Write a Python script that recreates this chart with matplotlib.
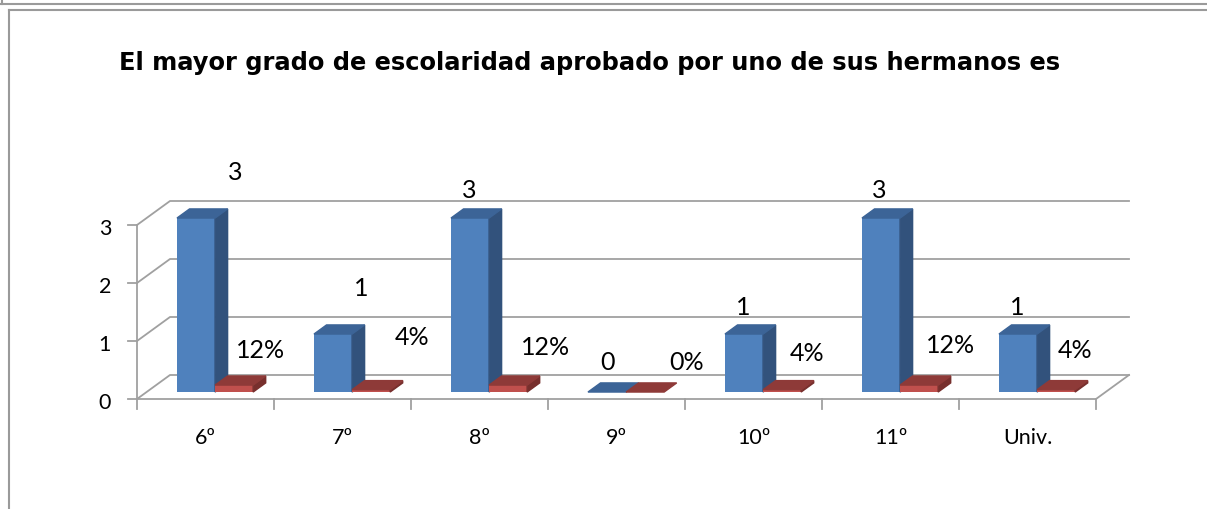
import matplotlib.pyplot as plt
from matplotlib.patches import Polygon
from matplotlib.lines import Line2D

# data
categories = ['6º', '7º', '8º', '9º', '10º', '11º', 'Univ.']
counts = [3, 1, 3, 0, 1, 3, 1]
pcts = [0.12, 0.04, 0.12, 0.0, 0.04, 0.12, 0.04]
yticks = [0, 1, 2, 3]

# label placement (excel put them a bit all over the place)
count_lbl_dx = [0.215, 0.135, -0.077, -0.069, -0.077, -0.084, -0.077]
count_lbl_dy = [0.93, 0.93, 0.62, 0.655, 0.59, 0.62, 0.60]
pct_lbl_dx = [0.398, 0.507, 0.485, 0.515, 0.39, 0.44, 0.347]
pct_lbl_y = [0.862, 1.086, 0.897, 0.638, 0.81, 0.948, 0.845]

# fake 3d settings
DX, DY = 33 / 137, 24 / 58      # depth of the floor
F0, F1 = 0.29, 0.67             # where the bars sit in depth
W = 0.278                       # bar width
grid_col = '#A0A0A0'
blue = ('#4F81BD', '#3C6497', '#32527C')
red = ('#C0504D', '#8E3A38', '#772F2D')
lbl_font = ['Lato', 'DejaVu Sans']

fig = plt.figure(figsize=(12.07, 5.10), dpi=100)
ax = fig.add_axes([0, 0, 1, 1])
ax.set_xlim(-1.5, -0.5 + (1207 - 137) / 137)
ax.set_ylim(-(510 - 400) / 58, 400 / 58)
ax.axis('off')

# walls / gridlines
n = len(categories)
xl, xr = -0.5, n - 0.5
for v in yticks:
    ax.plot([xl, xl + DX, xr + DX], [v, v + DY, v + DY], color=grid_col, lw=1.3, zorder=1)
    ax.plot([xl - 0.065, xl], [v, v], color=grid_col, lw=1.3, zorder=1)
    ax.text(xl - 0.234, v - 0.05, str(v), ha='center', va='center',
            fontsize=15.5, family=lbl_font)
ax.plot([xl, xr, xr + DX], [0, 0, DY], color=grid_col, lw=1.3, zorder=1)
ax.plot([xl, xl], [0, max(yticks)], color=grid_col, lw=1.3, zorder=1)
for k in range(n + 1):
    ax.plot([xl + k, xl + k], [0, -0.17], color=grid_col, lw=1.3, zorder=1)
for i, c in enumerate(categories):
    ax.text(i, -0.66, c, ha='center', va='center', fontsize=15.5, family=lbl_font)


def box(x0, h, cols, z):
    bx, by = x0 + F0 * DX, F0 * DY
    ddx, ddy = (F1 - F0) * DX, (F1 - F0) * DY
    if h > 0:
        ax.bar(bx, h, width=W, bottom=by, align='edge', color=cols[0], zorder=z)
        side = [(bx + W, by), (bx + W + ddx, by + ddy),
                (bx + W + ddx, by + h + ddy), (bx + W, by + h)]
        ax.add_patch(Polygon(side, closed=True, color=cols[2], zorder=z))
    top = [(bx, by + h), (bx + W, by + h), (bx + W + ddx, by + h + ddy), (bx + ddx, by + h + ddy)]
    ax.add_patch(Polygon(top, closed=True, color=cols[1], zorder=z))


for i in range(n):
    box(i - W, counts[i], blue, 3 + 2 * i)
    box(i, pcts[i], red, 4 + 2 * i)
    ax.text(i + count_lbl_dx[i], counts[i] + count_lbl_dy[i], str(counts[i]),
            ha='center', va='center', fontsize=18, family=lbl_font, zorder=20)
    ax.text(i + pct_lbl_dx[i], pct_lbl_y[i], f'{pcts[i]:.0%}',
            ha='center', va='center', fontsize=18, family=lbl_font, zorder=20)

# title
fig.text(590 / 1207, 1 - 63 / 510, 'El mayor grado de escolaridad aprobado por uno de sus hermanos es',
         ha='center', va='center', fontsize=17.4, fontweight='bold', family='DejaVu Sans')

# frame lines of the sheet
fig.add_artist(Line2D([0, 1], [1 - 5 / 510] * 2, transform=fig.transFigure, color='#9A9A9A', lw=1.5))
fig.add_artist(Line2D([2 / 1207] * 2, [1, 1 - 5 / 510], transform=fig.transFigure, color='#9A9A9A', lw=1.5))
fig.add_artist(Line2D([9 / 1207, 1], [1 - 11 / 510] * 2, transform=fig.transFigure, color='#9A9A9A', lw=1.5))
fig.add_artist(Line2D([9 / 1207] * 2, [0, 1 - 11 / 510], transform=fig.transFigure, color='#9A9A9A', lw=1.5))

fig.savefig('out.png', dpi=100)
